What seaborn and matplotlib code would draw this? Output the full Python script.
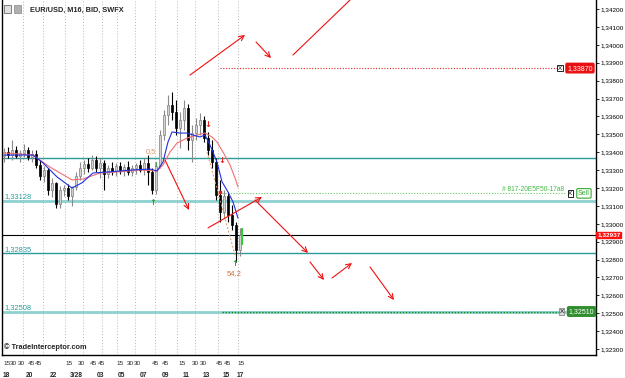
import numpy as np
import pandas as pd
import matplotlib
matplotlib.use("Agg")
import matplotlib.pyplot as plt
import matplotlib.transforms as mtransforms
import seaborn as sns

sns.set_style("white")
plt.rcParams['font.family'] = ['Liberation Sans', 'DejaVu Sans']

# ---------------- data ----------------
opens = [1.33378, 1.33401, 1.33384, 1.33412, 1.33378, 1.33396, 1.33412, 1.33373, 1.33390, 1.33329,
         1.33267, 1.33301, 1.33189, 1.33229, 1.33111, 1.33189, 1.33200, 1.33155, 1.33206, 1.33267,
         1.33312, 1.33334, 1.33312, 1.33356, 1.33312, 1.33340, 1.33278, 1.33312, 1.33295, 1.33323,
         1.33301, 1.33317, 1.33289, 1.33312, 1.33329, 1.33301, 1.33340, 1.33289, 1.33189, 1.33323,
         1.33496, 1.33608, 1.33664, 1.33625, 1.33535, 1.33580, 1.33647, 1.33468, 1.33507, 1.33552,
         1.33580, 1.33479, 1.33412, 1.33345, 1.33161, 1.33066, 1.33155, 1.33049, 1.32993, 1.32854]
highs = [1.33423, 1.33429, 1.33468, 1.33435, 1.33412, 1.33446, 1.33429, 1.33412, 1.33412, 1.33356,
         1.33323, 1.33312, 1.33256, 1.33235, 1.33212, 1.33218, 1.33223, 1.33212, 1.33289, 1.33345,
         1.33356, 1.33368, 1.33384, 1.33378, 1.33368, 1.33356, 1.33329, 1.33345, 1.33340, 1.33345,
         1.33334, 1.33351, 1.33329, 1.33340, 1.33356, 1.33368, 1.33384, 1.33312, 1.33345, 1.33524,
         1.33636, 1.33720, 1.33736, 1.33692, 1.33625, 1.33692, 1.33669, 1.33552, 1.33591, 1.33619,
         1.33602, 1.33513, 1.33468, 1.33368, 1.33245, 1.33189, 1.33178, 1.33105, 1.33010, 1.32977]
lows = [1.33345, 1.33368, 1.33356, 1.33368, 1.33345, 1.33373, 1.33356, 1.33345, 1.33312, 1.33245,
        1.33235, 1.33161, 1.33150, 1.33088, 1.33088, 1.33155, 1.33133, 1.33099, 1.33189, 1.33245,
        1.33278, 1.33289, 1.33301, 1.33289, 1.33256, 1.33189, 1.33256, 1.33273, 1.33267, 1.33278,
        1.33267, 1.33273, 1.33267, 1.33278, 1.33289, 1.33273, 1.33218, 1.33167, 1.33167, 1.33312,
        1.33468, 1.33552, 1.33580, 1.33496, 1.33423, 1.33524, 1.33412, 1.33345, 1.33468, 1.33496,
        1.33457, 1.33384, 1.33312, 1.33133, 1.33010, 1.33032, 1.33010, 1.32965, 1.32787, 1.32820]
closes = [1.33401, 1.33384, 1.33412, 1.33378, 1.33396, 1.33412, 1.33373, 1.33390, 1.33329, 1.33267,
          1.33301, 1.33189, 1.33229, 1.33111, 1.33189, 1.33200, 1.33155, 1.33206, 1.33267, 1.33312,
          1.33334, 1.33312, 1.33356, 1.33312, 1.33340, 1.33278, 1.33312, 1.33295, 1.33323, 1.33301,
          1.33317, 1.33289, 1.33312, 1.33329, 1.33301, 1.33340, 1.33289, 1.33189, 1.33323, 1.33496,
          1.33608, 1.33664, 1.33625, 1.33535, 1.33580, 1.33647, 1.33468, 1.33507, 1.33552, 1.33580,
          1.33479, 1.33412, 1.33345, 1.33161, 1.33066, 1.33155, 1.33049, 1.32993, 1.32854, 1.32937]

fast_ma_x = [0, 7.25, 9.75, 13.25, 17, 19.5, 22.25, 25.75, 32.25, 36.5, 38.25, 39.75, 41, 42, 44,
             45.75, 47.25, 49, 50.25, 51.5, 53.25, 54.5, 56, 57.25, 58.5]
fast_ma_y = [1.33384, 1.33384, 1.33340, 1.33262, 1.33200, 1.33229, 1.33284, 1.33289, 1.33301, 1.33306,
             1.33295, 1.33345, 1.33457, 1.33513, 1.33507, 1.33507, 1.33496, 1.33485, 1.33496, 1.33440,
             1.33345, 1.33235, 1.33178, 1.33122, 1.33032]
slow_ma_x = [0, 7.25, 11.5, 17, 19.75, 24, 28.25, 34, 38.25, 39.75, 41.5, 43.25, 45.75, 48.25, 50.25,
             52, 53.25, 54.75, 56.5, 57.75, 58.5]
slow_ma_y = [1.33396, 1.33384, 1.33317, 1.33245, 1.33250, 1.33284, 1.33289, 1.33301, 1.33295, 1.33329,
             1.33401, 1.33451, 1.33479, 1.33496, 1.33507, 1.33485, 1.33457, 1.33401, 1.33329, 1.33256,
             1.33206]

price_ticks = [1.323, 1.324, 1.325, 1.326, 1.327, 1.328, 1.329, 1.330, 1.331, 1.332,
               1.333, 1.334, 1.335, 1.336, 1.337, 1.338, 1.339, 1.340, 1.341, 1.342]
price_tick_labels = ["1,32300", "1,32400", "1,32500", "1,32600", "1,32700", "1,32800", "1,32900",
                     "1,33000", "1,33100", "1,33200", "1,33300", "1,33400", "1,33500", "1,33600",
                     "1,33700", "1,33800", "1,33900", "1,34000", "1,34100", "1,34200"]

hour_labels = ["18", "20", "22", "3/28", "03", "05", "07", "09", "11", "13", "15", "17"]
hour_pos = [-0.25, 5.5, 11.5, 16.5, 23.25, 28.5, 34, 39.5, 44.75, 49.75, 54.75, 58.25]
minute_labels = ["15", "30", "30", "45", "45", "15", "30", "45", "45", "15",
                 "30", "30", "45", "45", "15", "30", "30", "45", "45", "15"]
minute_pos = [-0.25, 1.5, 3.5, 6, 7.75, 15.25, 18.5, 21.5, 23.5, 28,
              30.75, 32.5, 37, 39.5, 43.5, 47, 49, 53, 55, 58.25]
grid_pos = [4.75, 9.75, 15.25, 19.75, 24.5, 28.25, 32.75, 37.75, 43.25, 47.75, 53.5, 58.5]

levels = {"teal_upper": 1.33368, "support1": 1.33128, "current": 1.32937,
          "support2": 1.32835, "support3": 1.32508}
order_levels = {"sell_stop": 1.33870, "sell_entry": 1.33170, "take_profit": 1.32510}

# red forecast arrows: (x0, y0, x1, y1, head)
arrows = [(46.5, 1.33831, 60.25, 1.34055, True),
          (63.0, 1.34016, 66.75, 1.33926, True),
          (72.25, 1.33943, 86.5, 1.34250, False),
          (40.25, 1.33356, 46.25, 1.33077, True),
          (51.0, 1.32977, 64.5, 1.33150, True),
          (62.75, 1.33133, 76.0, 1.32837, True),
          (76.5, 1.32787, 80.0, 1.32686, True),
          (82.0, 1.32697, 87.0, 1.32781, True),
          (91.5, 1.32759, 97.5, 1.32574, True)]

# ---------------- figure ----------------
W, H = 625, 378
fig = plt.figure(figsize=(W / 100, H / 100), dpi=100)
ax = fig.add_axes([2 / W, 23 / H, 594 / W, 355 / H])
ax.set_xlim(-0.5, 148)
ax.set_ylim(1.32267, 1.342503)

# vertical dotted grid
for g in grid_pos:
    ax.axvline(g, color="#b8b8b8", lw=0.7, ls=(0, (1, 2)), zorder=0)

# horizontal levels
ax.axhline(levels["teal_upper"], color="#2a9c9c", lw=1.0, zorder=1)
ax.axhline(levels["support1"], color="#8dd0d0", lw=2.0, zorder=1)
ax.axhline(levels["current"], color="black", lw=0.8, zorder=1)
ax.axhline(levels["support2"], color="#2a9c9c", lw=1.0, zorder=1)
ax.axhline(levels["support3"], color="#8dd0d0", lw=2.0, zorder=1)

ax.hlines(order_levels["sell_stop"], 54, 139, color="#e02020", lw=0.8, ls=(0, (1, 1.5)), zorder=2)
ax.hlines(order_levels["sell_entry"], 54.5, 140.5, color="#66cc66", lw=0.8, ls=(0, (1, 1.5)), zorder=2)
ax.hlines(order_levels["take_profit"], 54.5, 139, color="#118811", lw=1.0, ls=(0, (1, 1.2)), zorder=2)

lvl_kw = dict(fontsize=5.4, color="#2a9c9c", ha="left", va="bottom")
ax.text(0.0, levels["support1"] + 0.00004, "1,33128", **lvl_kw)
ax.text(0.0, levels["support2"] + 0.00004, "1,32835", **lvl_kw)
ax.text(0.0, levels["support3"] + 0.00004, "1,32508", **lvl_kw)

# candles
df = pd.DataFrame({"i": np.arange(len(opens)), "o": opens, "h": highs, "l": lows, "c": closes})
bull = df[df.c >= df.o]
bear = df[df.c < df.o]
ax.vlines(bull.i, bull.l, bull.h, color="#8a8a8a", lw=0.8, zorder=3)
ax.vlines(bear.i, bear.l, bear.h, color="black", lw=0.8, zorder=3)
ax.bar(bull.i, (bull.c - bull.o).clip(lower=0.00003), bottom=bull.o, width=0.7,
       color="#d4d4d4", edgecolor="#808080", linewidth=0.5, zorder=4)
ax.bar(bear.i, (bear.o - bear.c).clip(lower=0.00003), bottom=bear.c, width=0.7,
       color="black", edgecolor="black", linewidth=0.5, zorder=4)

# moving averages
sns.lineplot(x=slow_ma_x, y=slow_ma_y, color="#f07070", lw=0.8, ax=ax, zorder=5)
sns.lineplot(x=fast_ma_x, y=fast_ma_y, color="#2030e0", lw=0.8, ax=ax, zorder=6)

# fib dashed line
ax.plot([50.75, 57.75], [1.33401, 1.32826], color="#e09050", lw=0.7, ls=(0, (2, 2)), zorder=5)

# markers / labels
ax.text(36.6, 1.33401, "0,5", fontsize=5.3, color="#d89060", ha="center", va="center", zorder=7)
ax.text(37.2, 1.33120, "↑", fontsize=6, color="#22aa22", fontweight="bold", ha="center", va="center",
        family="DejaVu Sans", zorder=7)
ax.text(37.8, 1.33323, "I", fontsize=5.5, color="#22aa22", fontweight="bold", ha="center", va="center", zorder=7)
ax.text(57.7, 1.32777, "↑", fontsize=6, color="#22aa22", fontweight="bold", ha="center", va="center",
        family="DejaVu Sans", zorder=7)
ax.text(57.5, 1.32720, "54,2", fontsize=5.5, color="#d07030", ha="center", va="center", zorder=7)
ax.text(51.0, 1.33552, "↓", fontsize=6, color="#e02020", fontweight="bold", ha="center", va="center",
        family="DejaVu Sans", zorder=7)
ax.text(54.5, 1.33356, "↓", fontsize=6, color="#e02020", fontweight="bold", ha="center", va="center",
        family="DejaVu Sans", zorder=7)
ax.plot([54], [1.33178], marker="s", ms=2, color="#e02020", zorder=7)
ax.vlines(59.6, 1.32882, 1.32977, color="#33cc33", lw=1.5, zorder=7)

# forecast arrows
for x0, y0, x1, y1, head in arrows:
    ax.annotate("", xy=(x1, y1), xytext=(x0, y0),
                arrowprops=dict(arrowstyle="->" if head else "-", color="#ee1111", lw=0.8,
                                shrinkA=0, shrinkB=0, mutation_scale=9), zorder=8)

# order badges
ax.text(139.0, order_levels["sell_stop"], "X", fontsize=4.5, color="black", ha="center", va="center",
        bbox=dict(boxstyle="square,pad=0.12", fc="white", ec="black", lw=0.6), zorder=9)
ax.text(140.8, order_levels["sell_stop"], "1,33870", fontsize=5, color="white", ha="left", va="center",
        bbox=dict(boxstyle="round,pad=0.18", fc="#e81010", ec="#e81010"), zorder=9)
ax.text(141.6, order_levels["sell_entry"], "X", fontsize=4.5, color="black", ha="center", va="center",
        bbox=dict(boxstyle="square,pad=0.12", fc="white", ec="black", lw=0.6), zorder=9)
ax.text(143.5, order_levels["sell_entry"], "Sell", fontsize=5, color="#33aa33", ha="left", va="center",
        bbox=dict(boxstyle="round,pad=0.18", fc="white", ec="#33aa33", lw=0.8), zorder=9)
ax.text(140.0, order_levels["sell_entry"] + 0.00004, "# 817-20E5F50-17a8", fontsize=4.8,
        color="#44bb44", ha="right", va="bottom", zorder=9)
ax.text(139.4, order_levels["take_profit"], "X", fontsize=4.5, color="black", ha="center", va="center",
        bbox=dict(boxstyle="square,pad=0.12", fc="#d8d8d8", ec="#888888", lw=0.6), zorder=9)
ax.text(141.2, order_levels["take_profit"], "1,32510", fontsize=5, color="white", ha="left", va="center",
        bbox=dict(boxstyle="round,pad=0.18", fc="#2f8f2f", ec="#2f8f2f"), zorder=9)

# axes styling
ax.spines["top"].set_visible(False)
for s in ["left", "right", "bottom"]:
    ax.spines[s].set_color("black")
    ax.spines[s].set_linewidth(1.0)
ax.yaxis.tick_right()
ax.set_yticks(price_ticks)
ax.set_yticklabels(price_tick_labels)
ax.tick_params(axis="y", direction="out", length=2.5, width=0.6, pad=0.6, labelsize=4.6, colors="black")
ax.set_xticks([])
ax.set_xlabel("")
ax.set_ylabel("")

# current price tag
tr = mtransforms.blended_transform_factory(ax.transAxes, ax.transData)
ax.text(1.002, levels["current"], "1,32937", transform=tr, fontsize=4.6, fontweight="bold",
        color="white", ha="left", va="center", clip_on=False,
        bbox=dict(boxstyle="square,pad=0.12", fc="#ff1010", ec="#ff1010"), zorder=10)

# time axis labels
trx = mtransforms.blended_transform_factory(ax.transData, ax.transAxes)
for p, lab in zip(minute_pos, minute_labels):
    ax.text(p, -0.018, lab, transform=trx, fontsize=4.6, ha="left", va="top", clip_on=False)
for p, lab in zip(hour_pos, hour_labels):
    ax.text(p, -0.048, lab, transform=trx, fontsize=4.8, fontweight="bold", ha="left", va="top", clip_on=False)

# header / footer
fig.text(30 / W, 1 - 10 / H, "EUR/USD, M16, BID, SWFX", fontsize=5.3, fontweight="bold", va="center")
fig.patches.append(plt.Rectangle((4 / W, 1 - 13 / H), 7 / W, 8 / H, transform=fig.transFigure,
                                 fc="#e0e0e0", ec="#555555", lw=0.5))
fig.patches.append(plt.Rectangle((14 / W, 1 - 13 / H), 7 / W, 8 / H, transform=fig.transFigure,
                                 fc="#b0b0b0", ec="#888888", lw=0.5))
fig.text(4 / W, 1 - 347 / H, "© TradeInterceptor.com", fontsize=5.3, fontweight="bold", va="center")

fig.savefig("out.png", dpi=100, facecolor="white")
